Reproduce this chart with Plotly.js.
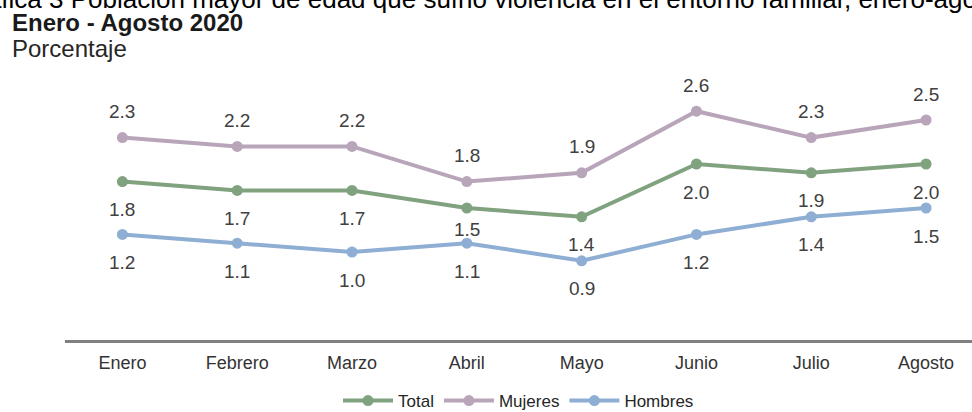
<!DOCTYPE html>
<html>
<head>
<meta charset="utf-8">
<script src="https://cdn.plot.ly/plotly-3.0.1.min.js"></script>
<style>
  html, body { margin: 0; padding: 0; background: #ffffff; }
  #chart { width: 972px; height: 412px; }
</style>
</head>
<body>
<div id="chart"></div>
<script>
// ---- Data ----
const months = ["Enero", "Febrero", "Marzo", "Abril", "Mayo", "Junio", "Julio", "Agosto"];
const total   = [1.8, 1.7, 1.7, 1.5, 1.4, 2.0, 1.9, 2.0];
const mujeres = [2.3, 2.2, 2.2, 1.8, 1.9, 2.6, 2.3, 2.5];
const hombres = [1.2, 1.1, 1.0, 1.1, 0.9, 1.2, 1.4, 1.5];
const seriesNames = ["Total", "Mujeres", "Hombres"];

const mainTitle = "Gráfica 3 Población mayor de edad que sufrió violencia en el entorno familiar, enero-agosto 2020";
const subTitle = "Enero - Agosto 2020";
const unitLabel = "Porcentaje";

// ---- Styles ----
const colors = { Total: "#80a27f", Mujeres: "#b8a5ba", Hombres: "#8eaed4" };
const FONT = "Liberation Sans, Arial, sans-serif";
const labelFont = { family: FONT, size: 19, color: "#404040" };
// label placement tweaks (style only): month -> pixel shift override
const totalShiftOverride = { "Abril": -21 };

function series(name, values) {
  return {
    type: "scatter",
    mode: "lines+markers",
    name: name,
    x: months,
    y: values,
    line: { color: colors[name], width: 4 },
    marker: { color: colors[name], size: 11 },
    hoverinfo: "skip"
  };
}

const traces = [
  series(seriesNames[0], total),
  series(seriesNames[1], mujeres),
  series(seriesNames[2], hombres)
];

function labels(values, shift, override) {
  return values.map((v, i) => ({
    x: months[i], y: v, xref: "x", yref: "y",
    text: v.toFixed(1), showarrow: false,
    yshift: (override && override[months[i]] !== undefined) ? override[months[i]] : shift,
    font: labelFont
  }));
}

const annotations = []
  .concat(labels(mujeres, 26))
  .concat(labels(total, -28, totalShiftOverride))
  .concat(labels(hombres, -28))
  .concat([
    { xref: "paper", yref: "paper", x: -0.1202, y: 1.2917, xanchor: "left", yanchor: "middle",
      text: mainTitle, showarrow: false,
      font: { family: FONT, size: 26, color: "#000000" } },
    { xref: "paper", yref: "paper", x: -0.0606, y: 1.2008, xanchor: "left", yanchor: "middle",
      text: "<b>" + subTitle + "</b>", showarrow: false,
      font: { family: FONT, size: 24, color: "#1a1a1a" } },
    { xref: "paper", yref: "paper", x: -0.0606, y: 1.1023, xanchor: "left", yanchor: "middle",
      text: unitLabel, showarrow: false,
      font: { family: FONT, size: 24, color: "#262626" } }
  ]);

const layout = {
  width: 972,
  height: 412,
  margin: { l: 65, r: 0, t: 76, b: 72, pad: 0, autoexpand: false },
  paper_bgcolor: "#ffffff",
  plot_bgcolor: "#ffffff",
  showlegend: true,
  legend: {
    orientation: "h",
    x: 0.5, xanchor: "center",
    y: -0.231, yanchor: "middle",
    font: { family: FONT, size: 17, color: "#262626" },
    itemwidth: 50,
    itemclick: false
  },
  xaxis: {
    type: "category",
    range: [-0.5, 7.4],
    automargin: false,
    showgrid: false,
    zeroline: false,
    showline: true,
    linecolor: "#808080",
    linewidth: 3,
    ticks: "",
    ticklabelstandoff: 4,
    tickfont: { family: FONT, size: 18, color: "#333333" },
    fixedrange: true
  },
  yaxis: {
    range: [0, 3],
    visible: false,
    automargin: false,
    showgrid: false,
    zeroline: false,
    fixedrange: true
  },
  annotations: annotations,
  hovermode: false
};

Plotly.newPlot("chart", traces, layout, { displayModeBar: false, staticPlot: true });
</script>
</body>
</html>
